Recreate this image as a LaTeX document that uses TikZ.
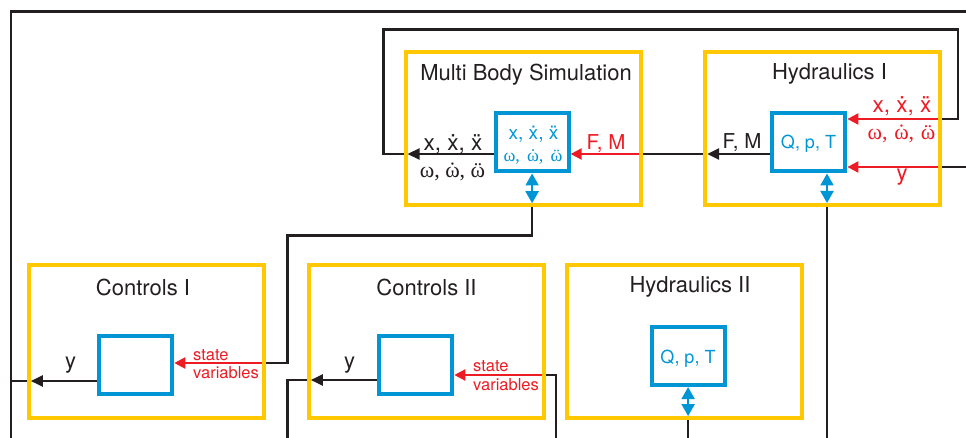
\documentclass[tikz,border=0pt]{standalone}
\usepackage{fontspec}
\setmainfont{TeX Gyre Heros}
\newfontfamily\grk{Liberation Serif}
\usetikzlibrary{arrows.meta,calc}
\pgfdeclarelayer{bg}
\pgfsetlayers{bg,main}
\definecolor{yl}{HTML}{FFC800}
\definecolor{bl}{HTML}{0096D6}
\definecolor{rd}{HTML}{ED1C24}
\definecolor{dk}{HTML}{231F20}
\newcommand\sdot[1]{\ooalign{#1\cr\hidewidth\char"02D9\hidewidth\cr}}
\newcommand\sddot[1]{\ooalign{#1\cr\hidewidth\char"00A8\hidewidth\cr}}
\newcommand\xs{x, \sdot{x}, \sddot{x}}
\newcommand\ws[1][0.2em]{{\grk ω,\hspace{#1}\sdot{ω},\hspace{#1}\sddot{ω}}}
\tikzset{
 yelbox/.style={draw=yl,line width=4pt,minimum width=235pt,minimum height=153pt,inner sep=0pt},
 bluebox/.style={draw=bl,line width=4pt,minimum width=73pt,minimum height=58pt,inner sep=0pt},
 ttl/.style={anchor=base,text=dk,inner sep=0pt,font=\fontsize{22}{26}\selectfont},
 lbl/.style={anchor=base,inner sep=0pt,font=\fontsize{20.5}{24}\selectfont},
 xlbl/.style={anchor=base,inner sep=0pt,font=\fontsize{22.5}{26}\selectfont},
 ylbl/.style={anchor=base,inner sep=0pt,font=\fontsize{22}{26}\selectfont},
 omg/.style={anchor=base,inner sep=0pt,font=\fontsize{22}{24}\selectfont},
 inn/.style={anchor=base,inner sep=0pt,text=bl,font=\fontsize{18}{21}\selectfont},
 innx/.style={anchor=base,inner sep=0pt,text=bl,font=\fontsize{19}{21}\selectfont},
 innw/.style={anchor=base,inner sep=0pt,text=bl,font=\fontsize{18}{21}\selectfont},
 svar/.style={anchor=base west,inner sep=0pt,text=rd,font=\fontsize{16.5}{19}\selectfont},
 blkline/.style={draw=dk,line width=2.6pt},
 ablk/.style={draw=dk,line width=2.2pt,-{Triangle[length=12pt,width=11pt]}},
 ared/.style={draw=rd,line width=2.2pt,-{Triangle[length=11pt,width=11pt]}},
 ablu/.style={draw=bl,line width=2pt,{Triangle[length=12pt,width=13pt]}-{Triangle[length=12pt,width=13pt]}},
}
\begin{document}
\begin{tikzpicture}[x=1pt,y=-1pt]
\useasboundingbox (0,0) rectangle (966,438);
% boxes
\node[yelbox] (mbs) at (523,128.75) {};
\node[yelbox] (h1) at (822.6,128.5) {};
\node[yelbox] (c1) at (146.3,341.5) {};
\node[yelbox] (c2) at (426.3,341.5) {};
\node[yelbox] (h2) at (684.2,341.6) {};
\node[bluebox] (mbsb) at (532.1,142.5) {};
\node[bluebox] (h1b) at (808.9,142.5) {};
\node[bluebox] (c1b) at (135.8,364.6) {};
\node[bluebox] (c2b) at (415.8,364.6) {};
\node[bluebox] (h2b) at (688.1,356.1) {};
% titles
\node[ttl] (tmbs) at (526,81) {Multi Body Simulation};
\node[ttl] (th1) at (829.5,80) {Hydraulics I};
\node[ttl] (tc1) at (143,295) {Controls I};
\node[ttl] (tc2) at (426.5,295) {Controls II};
\node[ttl] (th2) at (690,293) {Hydraulics II};
% levels
\coordinate (Lmb) at (0,154);
\coordinate (Lha) at (0,119);
\coordinate (Lhb) at (0,167);
\coordinate (Lc1s) at (0,363);
\coordinate (Lc1y) at (0,381);
\coordinate (Lc2s) at (0,375);
\coordinate (Lc2y) at (0,380);
\coordinate (Xh1) at (827,0);
\coordinate (topR) at (970,11.7);
\coordinate (botL) at (11,440);
% labels
\node[xlbl,text=dk] (mbsx) at (453,151) {\xs};
\node[omg,text=dk] (mbsw) at (452.5,178) {\ws[0.25em]};
\node[innx] (mbsbx) at (533.5,140) {\xs};
\node[innw] (mbsbw) at (533,162) {\ws[0.4em]};
\node[lbl,text=rd] (mbsfm) at (606,150) {F, M};
\node[lbl,text=dk] (h1fm) at (742,149) {F, M};
\node[inn] (h1q) at (808.5,149) {Q, p, T};
\node[xlbl,text=rd] (h1x) at (902,113) {\xs};
\node[omg,text=rd] (h1w) at (901.5,140) {\ws[0.3em]};
\node[ylbl,text=rd] (h1y) at (902,181) {y};
\node[ylbl,text=dk] (c1y) at (70.5,368) {y};
\node[svar] (c1s) at (193,360) {state};
\node[svar] (c1v) at (193,378.3) {variables};
\node[ylbl,text=dk] (c2y) at (349.5,368) {y};
\node[svar] (c2s) at (473,371.7) {state};
\node[svar] (c2v) at (473,390) {variables};
\node[inn] (h2q) at (688,363) {Q, p, T};
\begin{pgfonlayer}{bg}
% multi body simulation
\draw[ablk] (mbsb.west |- Lmb) -- ($(mbs.west |- Lmb)+(4,0)$);
\draw[ared] (mbs.east |- Lmb) -- (mbsb.east |- Lmb);
\draw[ablu] (mbsb.south) -- ($(mbs.south -| mbsb)+(0,-4)$);
% hydraulics I
\draw[ablk] (h1b.west |- Lmb) -- ($(h1.west |- Lmb)+(4,0)$);
\draw[blkline] (h1.west |- Lmb) -- (mbs.east |- Lmb);
\draw[ared] (h1.east |- Lha) -- (h1b.east |- Lha);
\draw[ared] (h1.east |- Lhb) -- (h1b.east |- Lhb);
\draw[blkline] (h1.east |- Lha) -- (958,119) -- (958,29.5) -- (383.3,29.5) -- (383.3,154) -- (mbs.west |- Lmb);
\draw[blkline] (h1.east |- Lhb) -- (970,167);
\draw[ablu] (h1b.south -| Xh1) -- ($(h1.south -| Xh1)+(0,-4)$);
\draw[blkline] (h1.south -| Xh1) -- (827,440);
% MBS to controls I
\draw[blkline] (mbs.south -| mbsb) |- (287.3,235.5) |- (c1.east |- Lc1s);
% controls I
\draw[ared] (c1.east |- Lc1s) -- (c1b.east |- Lc1s);
\draw[ablk] (c1b.west |- Lc1y) -- ($(c1.west |- Lc1y)+(4,0)$);
\draw[blkline] (c1.west |- Lc1y) -- (11,381);
\draw[blkline] (botL) -- (11,11.7) -- (topR);
% controls II
\draw[ared] (c2.east |- Lc2s) -- (c2b.east |- Lc2s);
\draw[ablk] (c2b.west |- Lc2y) -- ($(c2.west |- Lc2y)+(4,0)$);
\draw[blkline] (c2.west |- Lc2y) -| (287.3,440);
\draw[blkline] (c2.east |- Lc2s) -| (556,440);
% hydraulics II
\draw[ablu] (h2b.south) -- ($(h2.south -| h2b)+(0,-4)$);
\draw[blkline] (h2.south -| h2b) -- ++(0,30);
\end{pgfonlayer}
\end{tikzpicture}
\end{document}
